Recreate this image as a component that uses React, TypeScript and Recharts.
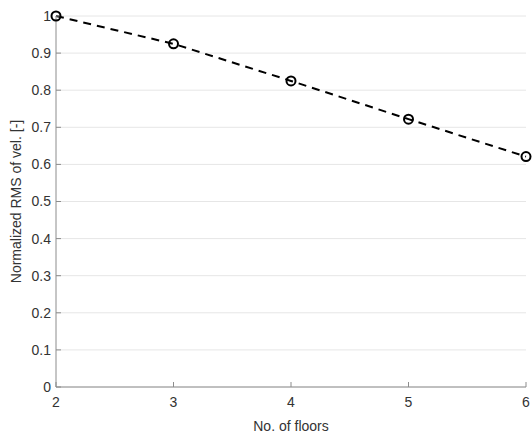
import { LineChart, Line, XAxis, YAxis, CartesianGrid } from "recharts"

const floors = [2, 3, 4, 5, 6]
const rmsVel = [1.0, 0.925, 0.825, 0.722, 0.621]
const xTicks = [2, 3, 4, 5, 6]
const yTicks = [0, 0.1, 0.2, 0.3, 0.4, 0.5, 0.6, 0.7, 0.8, 0.9, 1]

const data = floors.map((f, i) => ({ floors: f, rms: rmsVel[i] }))

const axisColor = "#8c8c8c"
const textColor = "#333333"
const font = "'Liberation Sans', Arial, sans-serif"

export default function App() {
  return (
    <div style={{ position: "absolute", left: 0, top: 0, background: "#fff", fontFamily: font }}>
      <LineChart width={532} height={435} data={data} margin={{ top: 16, right: 6, bottom: 0, left: 0 }}>
        <CartesianGrid horizontal vertical={false} stroke="#e6e6e6" strokeWidth={1} />
        <XAxis
          dataKey="floors"
          type="number"
          domain={[2, 6]}
          ticks={xTicks}
          height={48}
          stroke={axisColor}
          tickSize={-5}
          tick={{ fill: textColor, fontSize: 14, dy: 13 }}
          label={{ value: "No. of floors", position: "insideBottom", offset: 4, fill: textColor, fontSize: 14 }}
        />
        <XAxis
          xAxisId="top"
          dataKey="floors"
          type="number"
          domain={[2, 6]}
          ticks={xTicks}
          orientation="top"
          height={0}
          stroke={axisColor}
          tickSize={-5}
          tick={false}
        />
        <YAxis
          type="number"
          domain={[0, 1]}
          ticks={yTicks}
          width={56}
          stroke={axisColor}
          tickSize={-5}
          tick={{ fill: textColor, fontSize: 14, dx: -8 }}
          interval={0}
          label={{
            value: "Normalized RMS of vel. [-]",
            angle: -90,
            position: "insideLeft",
            offset: 16,
            style: { textAnchor: "middle", fill: textColor, fontSize: 14 },
          }}
        />
        <YAxis
          yAxisId="right"
          type="number"
          domain={[0, 1]}
          ticks={yTicks}
          orientation="right"
          width={0}
          stroke={axisColor}
          tickSize={-5}
          tick={false}
        />
        <Line
          dataKey="rms"
          stroke="#000"
          strokeWidth={2}
          strokeDasharray="8 6"
          dot={{ r: 4.5, stroke: "#000", strokeWidth: 2, fill: "none", strokeDasharray: "0" }}
          isAnimationActive={false}
        />
      </LineChart>
    </div>
  )
}
